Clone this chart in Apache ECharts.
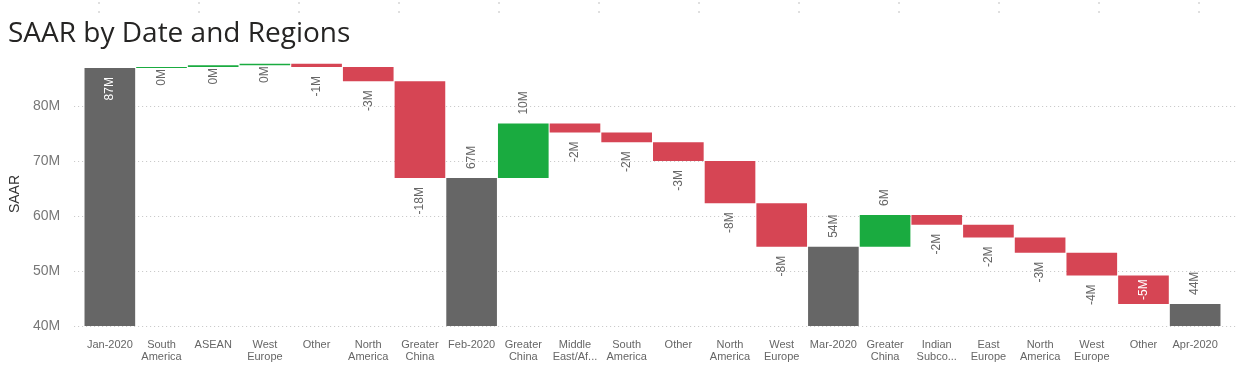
<!DOCTYPE html>
<html>
<head>
<meta charset="utf-8">
<script src="https://cdn.jsdelivr.net/npm/echarts@6/dist/echarts.min.js"></script>
<style>
html,body{margin:0;padding:0;background:#fff;}
#chart{width:1241px;height:370px;}
</style>
</head>
<body>
<div id="chart"></div>
<script>
// ---- data (values in millions) ----
const categories = ['Jan-2020','South\nAmerica','ASEAN','West\nEurope','Other','North\nAmerica','Greater\nChina',
  'Feb-2020','Greater\nChina','Middle\nEast/Af...','South\nAmerica','Other','North\nAmerica','West\nEurope',
  'Mar-2020','Greater\nChina','Indian\nSubco...','East\nEurope','North\nAmerica','West\nEurope','Other','Apr-2020'];
const values = [86.9, 0.2, 0.3, 0.3, -0.6, -2.6, -17.6,
  66.9, 9.9, -1.6, -1.8, -3.4, -7.7, -7.9,
  54.4, 5.8, -1.8, -2.3, -2.8, -4.1, -5.2, 44.0];
const kinds = ['total','delta','delta','delta','delta','delta','delta',
  'total','delta','delta','delta','delta','delta','delta',
  'total','delta','delta','delta','delta','delta','delta','total'];
const yTicks = [40, 50, 60, 70, 80];

// ---- layout / style ----
const Y_MIN = 40, Y_MAX = 88, GRID_TOP = 62, GRID_BOTTOM = 44;
const PLOT_H = 370 - GRID_TOP - GRID_BOTTOM;
const PX = PLOT_H / (Y_MAX - Y_MIN);
const COL = {total: '#666666', up: '#1aab40', down: '#d64554'};
const LABEL_FONT = 12, DIST = 9;

function fmt(v){ const r = Math.round(v); return (r === 0 ? 0 : r) + 'M'; }
function textLen(s){ return s.length * 7; }

const helper = [], visible = [];
let run = 0;
values.forEach((v, i) => {
  let lo, hi, color;
  if (kinds[i] === 'total') { lo = 0; hi = v; run = v; color = COL.total; }
  else { const s = run, e = run + v; lo = Math.min(s, e); hi = Math.max(s, e); run = e; color = v >= 0 ? COL.up : COL.down; }
  const txt = fmt(v);
  const need = DIST + textLen(txt);
  let label;
  const base = {show: true, rotate: 90, fontSize: LABEL_FONT, fontFamily: 'Liberation Sans, Arial, sans-serif', color: '#666', formatter: txt, verticalAlign: 'middle'};
  if (kinds[i] === 'total' || v >= 0) {
    const room = (Y_MAX - hi) * PX;
    if (room >= need) label = Object.assign(base, {position: 'top', align: 'left', distance: DIST});
    else if (kinds[i] === 'total') label = Object.assign(base, {position: 'insideTop', align: 'right', distance: DIST, color: '#fff'});
    else label = Object.assign(base, {position: 'bottom', align: 'right', distance: 1});
  } else {
    const room = (lo - Y_MIN) * PX;
    if (room >= need) label = Object.assign(base, {position: 'bottom', align: 'right', distance: DIST});
    else label = Object.assign(base, {position: 'inside', align: 'center', color: '#fff'});
  }
  helper.push(lo);
  visible.push({value: hi - lo, itemStyle: {color: color}, label: label});
});

const marks = [];
for (let x = 99; x <= 1199; x += 100) {
  marks.push({type: 'line', shape: {x1: x, y1: 2, x2: x, y2: 15}, style: {stroke: '#c0c0c0', lineWidth: 1, lineDash: [2, 7]}, silent: true});
}

const chart = echarts.init(document.getElementById('chart'), null, {renderer: 'canvas'});
chart.setOption({
  animation: false,
  backgroundColor: '#fff',
  title: {
    text: 'SAAR by Date and Regions', left: 3, top: 15,
    textStyle: {fontFamily: 'Open Sans, Liberation Sans, sans-serif', fontSize: 28, fontWeight: 'normal', color: '#252423'}
  },
  graphic: marks,
  grid: [
    {left: 62, right: 3, top: GRID_TOP, bottom: GRID_BOTTOM},
    {left: 84, right: 20, top: GRID_TOP, bottom: GRID_BOTTOM}
  ],
  xAxis: [
    {gridIndex: 0, type: 'value', min: 0, max: 1, show: false},
    {gridIndex: 1, type: 'category', data: categories,
     axisLine: {show: false}, axisTick: {show: false},
     axisLabel: {interval: 0, margin: 13, fontSize: 11, lineHeight: 12, color: '#666', fontFamily: 'Liberation Sans, Arial, sans-serif'}}
  ],
  yAxis: [
    {gridIndex: 0, type: 'value', min: Y_MIN, max: Y_MAX, interval: 10,
     name: 'SAAR', nameLocation: 'middle', nameGap: 48,
     nameTextStyle: {fontSize: 14, color: '#333', fontFamily: 'Liberation Sans, Arial, sans-serif'},
     axisLine: {show: false}, axisTick: {show: false},
     axisLabel: {margin: 14, fontSize: 14, color: '#777', fontFamily: 'Liberation Sans, Arial, sans-serif', showMaxLabel: false,
       formatter: v => yTicks.indexOf(v) >= 0 ? v + 'M' : ''},
     splitLine: {show: true, showMaxLine: false, lineStyle: {type: [1, 3], color: '#c4c4c4', width: 1}}},
    {gridIndex: 1, type: 'value', min: Y_MIN, max: Y_MAX, interval: 10, show: false, splitLine: {show: false}}
  ],
  series: [
    {type: 'bar', xAxisIndex: 1, yAxisIndex: 1, stack: 'w', data: helper, itemStyle: {color: 'transparent'}, silent: true, barCategoryGap: '2%'},
    {type: 'bar', xAxisIndex: 1, yAxisIndex: 1, stack: 'w', data: visible, barCategoryGap: '2%'}
  ]
});
</script>
</body>
</html>
